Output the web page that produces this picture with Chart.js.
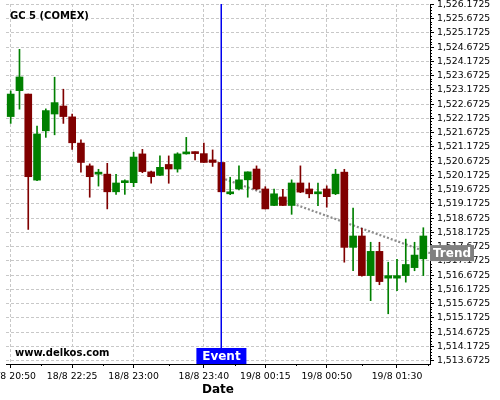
<!DOCTYPE html>
<html>
<head>
<meta charset="utf-8">
<script src="https://cdn.jsdelivr.net/npm/chart.js@4.4.1/dist/chart.umd.min.js"></script>
<style>
  html, body { margin: 0; padding: 0; background: #fff; }
</style>
</head>
<body>
<canvas id="myChart" width="500" height="400"></canvas>
<script>
// candle times (one per bar)
var times = [
  '18/8 20:50', '18/8 21:55', '18/8 22:00', '18/8 22:05', '18/8 22:10', '18/8 22:15', '18/8 22:20', '18/8 22:25',
  '18/8 22:30', '18/8 22:35', '18/8 22:40', '18/8 22:45', '18/8 22:50', '18/8 22:55', '18/8 23:00', '18/8 23:05',
  '18/8 23:10', '18/8 23:15', '18/8 23:20', '18/8 23:25', '18/8 23:30', '18/8 23:35', '18/8 23:40', '18/8 23:45',
  '18/8 23:50', '18/8 23:55', '19/8 00:00', '19/8 00:05', '19/8 00:10', '19/8 00:15', '19/8 00:20', '19/8 00:25',
  '19/8 00:30', '19/8 00:35', '19/8 00:40', '19/8 00:45', '19/8 00:50', '19/8 00:55', '19/8 01:00', '19/8 01:05',
  '19/8 01:10', '19/8 01:15', '19/8 01:20', '19/8 01:25', '19/8 01:30', '19/8 01:35', '19/8 01:40', '19/8 01:45'
];

var opens = [
  1522.24, 1523.15, 1523.03, 1520.01, 1521.74, 1522.33, 1522.61, 1522.23,
  1521.31, 1520.51, 1520.22, 1520.22, 1519.60, 1519.92, 1519.92, 1520.93,
  1520.30, 1520.18, 1520.56, 1520.40, 1520.93, 1520.98, 1520.94, 1520.72,
  1520.63, 1519.53, 1519.70, 1520.02, 1520.40, 1519.70, 1519.12, 1519.42,
  1519.12, 1519.91, 1519.70, 1519.53, 1519.70, 1519.53, 1520.29, 1517.65,
  1518.05, 1516.66, 1517.51, 1516.57, 1516.57, 1516.66, 1516.94, 1517.25
];
var highs = [
  1523.14, 1524.60, 1523.03, 1521.91, 1522.51, 1523.62, 1523.20, 1522.33,
  1521.42, 1520.58, 1520.39, 1520.60, 1520.21, 1520.02, 1520.99, 1521.09,
  1520.33, 1520.86, 1520.86, 1520.97, 1521.51, 1521.00, 1521.31, 1521.07,
  1520.63, 1520.11, 1520.51, 1520.30, 1520.51, 1519.78, 1519.70, 1519.69,
  1520.02, 1520.51, 1519.91, 1519.91, 1519.81, 1520.39, 1520.39, 1519.03,
  1518.32, 1517.83, 1517.83, 1517.13, 1517.23, 1517.94, 1517.83, 1518.34
];
var lows = [
  1522.00, 1522.50, 1518.28, 1519.99, 1521.51, 1521.60, 1522.00, 1521.09,
  1520.29, 1519.41, 1519.80, 1519.00, 1519.51, 1519.51, 1519.78, 1520.27,
  1519.90, 1520.17, 1519.90, 1520.29, 1520.92, 1520.72, 1520.63, 1520.49,
  1519.60, 1519.50, 1519.67, 1519.41, 1519.67, 1519.00, 1519.11, 1519.11,
  1518.81, 1519.57, 1519.39, 1519.11, 1519.06, 1519.50, 1517.13, 1516.83,
  1516.64, 1515.78, 1516.34, 1515.32, 1516.13, 1516.43, 1516.83, 1516.66
];
var closes = [
  1523.03, 1523.63, 1520.13, 1521.63, 1522.45, 1522.73, 1522.24, 1521.32,
  1520.63, 1520.13, 1520.29, 1519.60, 1519.91, 1519.96, 1520.82, 1520.31,
  1520.13, 1520.46, 1520.40, 1520.93, 1521.00, 1520.94, 1520.63, 1520.63,
  1519.60, 1519.59, 1520.02, 1520.30, 1519.70, 1519.00, 1519.53, 1519.12,
  1519.91, 1519.59, 1519.53, 1519.59, 1519.43, 1520.22, 1517.65, 1518.05,
  1516.66, 1517.51, 1516.45, 1516.66, 1516.66, 1517.05, 1517.38, 1518.05
];

// axis ticks
var xTickIndex = [0, 7, 14, 22, 29, 36, 44];
var xMinorIndex = [3.5, 10.5, 18, 25.5, 32.5, 40, 47.5];
var yTicks = [
  1513.6725, 1514.1725, 1514.6725, 1515.1725, 1515.6725, 1516.1725, 1516.6725,
  1517.1725, 1517.6725, 1518.1725, 1518.6725, 1519.1725, 1519.6725, 1520.1725,
  1520.6725, 1521.1725, 1521.6725, 1522.1725, 1522.6725, 1523.1725, 1523.6725,
  1524.1725, 1524.6725, 1525.1725, 1525.6725, 1526.1725
];

// event + trend
var eventIndex = 24;
var trendX = [24, 47.76];
var trendY = [1520.09, 1517.45];

var UP = '#008000', DOWN = '#800000';
var FONT = '"DejaVu Sans"';

var candleColors = opens.map(function (o, i) { return closes[i] >= opens[i] ? UP : DOWN; });
var bodies = opens.map(function (o, i) { return { x: i, y: [o, closes[i]] }; });
var wicks = lows.map(function (l, i) { return { x: i, y: [l, highs[i]] }; });
var trend = trendX.map(function (x, i) { return { x: x, y: trendY[i] }; });

var overlay = {
  id: 'overlay',
  afterDatasetsDraw: function (chart) {
    var ctx = chart.ctx, a = chart.chartArea;
    var ex = chart.scales.x.getPixelForValue(eventIndex);
    ctx.save();
    ctx.fillStyle = '#0000ee';
    ctx.fillRect(Math.round(ex) - 0.5, a.top, 1.5, a.bottom - a.top);
    ctx.restore();
  },
  afterDraw: function (chart) {
    var ctx = chart.ctx, a = chart.chartArea;
    var xs = chart.scales.x, ys = chart.scales.y;
    ctx.save();

    // minor ticks
    ctx.strokeStyle = '#000';
    ctx.lineWidth = 1;
    ctx.beginPath();
    xMinorIndex.forEach(function (v) {
      var px = Math.round(xs.getPixelForValue(v)) + 0.5;
      ctx.moveTo(px, a.bottom);
      ctx.lineTo(px, a.bottom + 2);
    });
    yTicks.forEach(function (t, k) {
      if (k === yTicks.length - 1) return;
      for (var j = 1; j < 5; j++) {
        var py = Math.round(ys.getPixelForValue(t + j * 0.1)) + 0.5;
        ctx.moveTo(a.right, py);
        ctx.lineTo(a.right + 2, py);
      }
    });
    ctx.stroke();

    // title + watermark
    ctx.fillStyle = '#000';
    ctx.textBaseline = 'middle';
    ctx.textAlign = 'left';
    ctx.font = 'bold 10px ' + FONT;
    ctx.fillText('GC 5 (COMEX)', a.left + 4, a.top + 12);
    ctx.fillText('www.delkos.com', a.left + 9, a.bottom - 11);

    // axis title
    ctx.font = 'bold 12px ' + FONT;
    ctx.textAlign = 'center';
    ctx.fillText('Date', (a.left + a.right) / 2, a.bottom + 26);

    // event label
    var ex = xs.getPixelForValue(eventIndex);
    ctx.fillStyle = '#0000ff';
    ctx.fillRect(ex - 25, a.bottom - 16, 50, 16);
    ctx.fillStyle = '#fff';
    ctx.fillText('Event', ex, a.bottom - 7.5);

    // trend label
    var ty = ys.getPixelForValue(trendY[1]);
    ctx.fillStyle = '#808080';
    ctx.fillRect(a.right, ty - 8, 44, 16);
    ctx.fillStyle = '#fff';
    ctx.fillText('Trend', a.right + 22, ty + 0.5);

    ctx.restore();
  }
};

function fmt(v) {
  return v.toLocaleString('en-US', { minimumFractionDigits: 4, maximumFractionDigits: 4 });
}

var ctx = document.getElementById('myChart').getContext('2d');
var chart = new Chart(ctx, {
  type: 'bar',
  data: {
    datasets: [
      {
        type: 'line',
        data: trend,
        borderColor: '#8c8c8c',
        borderWidth: 2.2,
        borderDash: [2, 2],
        borderCapStyle: 'butt',
        pointRadius: 0,
        fill: false,
        order: 10
      },
      {
        data: wicks,
        backgroundColor: candleColors,
        borderWidth: 0,
        barThickness: 1,
        grouped: false,
        order: 2
      },
      {
        data: bodies,
        backgroundColor: candleColors,
        borderWidth: 0,
        barThickness: 7,
        minBarLength: 2,
        grouped: false,
        order: 1
      }
    ]
  },
  options: {
    responsive: false,
    devicePixelRatio: 1,
    animation: false,
    layout: { padding: { left: 6, top: 4, right: 0, bottom: 0 } },
    plugins: {
      legend: { display: false },
      tooltip: { enabled: false }
    },
    scales: {
      x: {
        type: 'linear',
        offset: false,
        min: -0.535,
        max: 47.76,
        afterBuildTicks: function (scale) {
          scale.ticks = xTickIndex.map(function (v) { return { value: v }; });
        },
        afterFit: function (scale) {
          scale.height = 36;
          scale.paddingLeft = 0;
          scale.paddingRight = 0;
        },
        ticks: {
          autoSkip: false,
          maxRotation: 0,
          padding: 3,
          color: '#000',
          font: { family: FONT, size: 9.3 },
          callback: function (v) { return times[v]; }
        },
        grid: {
          offset: false,
          color: '#c8c8c8',
          tickColor: '#000',
          tickLength: 4,
          tickBorderDash: []
        },
        border: { display: true, color: '#000', width: 1, dash: [3, 2] }
      },
      y: {
        type: 'linear',
        position: 'right',
        min: 1513.558,
        max: 1526.19,
        afterBuildTicks: function (scale) {
          scale.ticks = yTicks.map(function (v) { return { value: v }; });
        },
        afterFit: function (scale) {
          scale.width = 70;
          scale.paddingTop = 0;
          scale.paddingBottom = 0;
        },
        ticks: {
          padding: 3,
          color: '#000',
          font: { family: FONT, size: 9.3 },
          callback: function (v) { return fmt(v); }
        },
        grid: {
          color: '#c8c8c8',
          tickColor: '#000',
          tickLength: 4,
          tickBorderDash: []
        },
        border: { display: true, color: '#000', width: 1, dash: [3, 2] }
      }
    }
  },
  plugins: [overlay]
});
</script>
</body>
</html>
